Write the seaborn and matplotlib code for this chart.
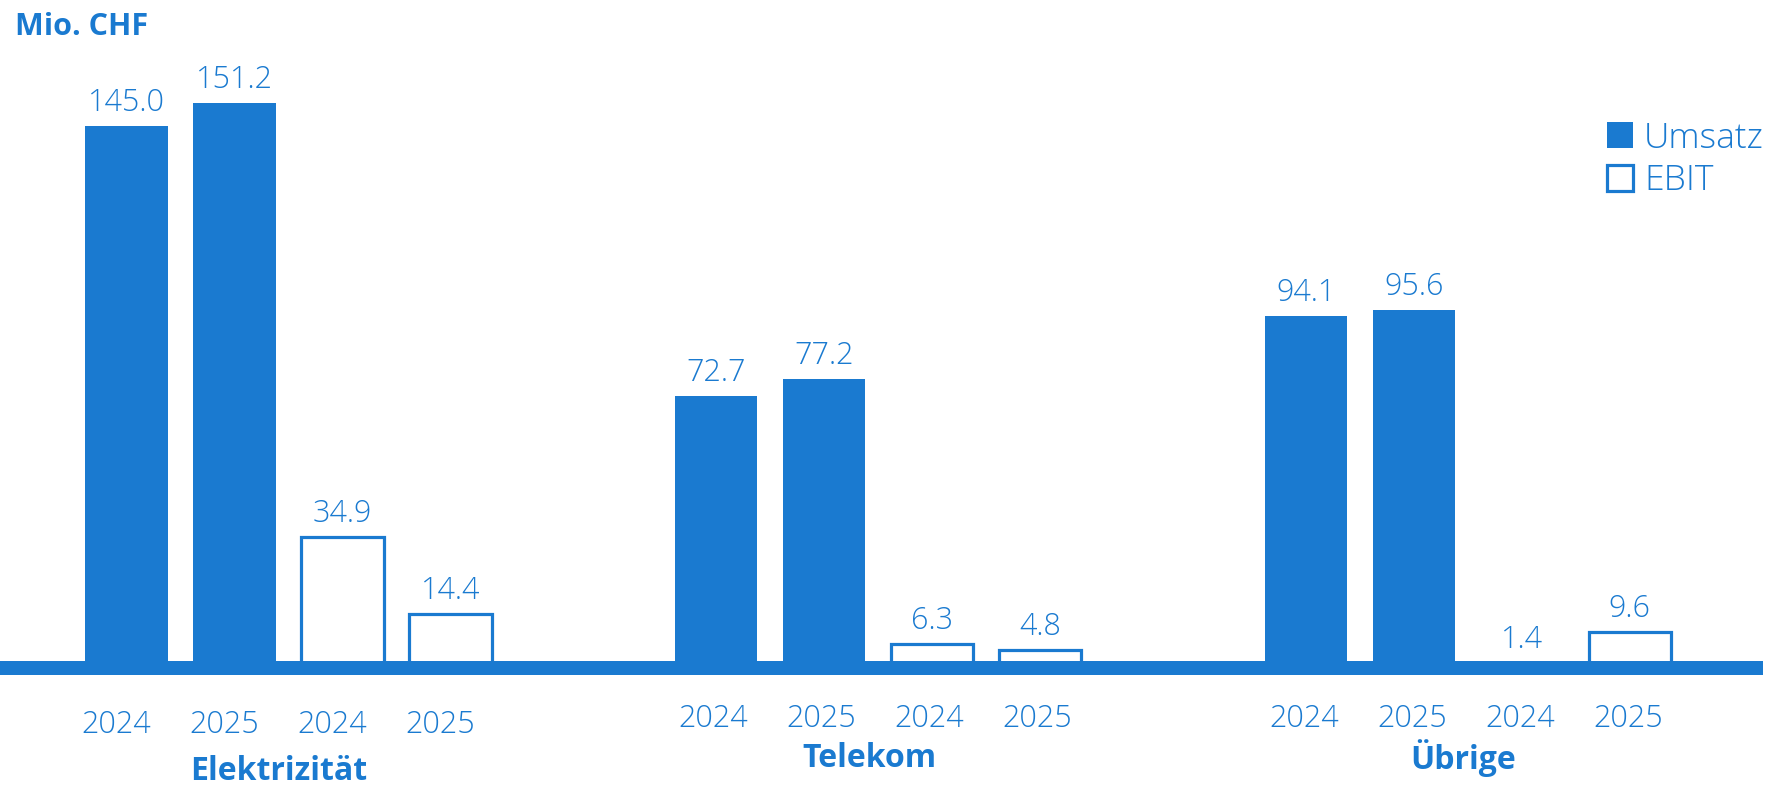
import matplotlib
matplotlib.use("Agg")
import matplotlib.pyplot as plt
import pandas as pd
import seaborn as sns
from matplotlib.patches import Patch

# Segment results in Mio. CHF
segments = ["Elektrizität", "Telekom", "Übrige"]
years = ["2024", "2025"]
umsatz_2024 = [145.0, 72.7, 94.1]
umsatz_2025 = [151.2, 77.2, 95.6]
ebit_2024 = [34.9, 6.3, 1.4]
ebit_2025 = [14.4, 4.8, 9.6]

BLUE = "#1a7ad0"
GROUP_STEP = 5.46   # distance between segment groups, in bar slots
BAR_WIDTH = 0.76
PT = 72 / 100       # points per pixel at 100 dpi

# per-group nudges (pixels) of the year and segment labels below the axis
year_dx = [-10, -3, -1.5]
year_dy = [6, 0, 0]
seg_dx = [-10, -9, -5]
seg_dy = [9, -4, -4]

rows = []
for g, seg in enumerate(segments):
    series = [
        ("Umsatz", years[0], umsatz_2024[g]),
        ("Umsatz", years[1], umsatz_2025[g]),
        ("EBIT", years[0], ebit_2024[g]),
        ("EBIT", years[1], ebit_2025[g]),
    ]
    for j, (measure, year, val) in enumerate(series):
        rows.append({"group": g, "segment": seg, "measure": measure,
                     "year": year, "value": val,
                     "pos": g * GROUP_STEP + j})
df = pd.DataFrame(rows)

sns.set_theme(style="white")
plt.rcParams["font.family"] = ["Open Sans", "DejaVu Sans"]

W, H = 1772, 787
fig = plt.figure(figsize=(W / 100, H / 100), dpi=100)
ax = fig.add_axes([0, 1 - 675 / H, 1763 / W, (675 - 20) / H])

px_per_unit = 3.74
zero_px = 668          # vertical pixel of the value 0
half_base = 7          # half thickness of the baseline, pixels
slot_px = 108.0
first_center_px = 126.5

sns.barplot(data=df[df.measure == "Umsatz"], x="pos", y="value",
            native_scale=True, color=BLUE, saturation=1, width=BAR_WIDTH,
            linewidth=0, errorbar=None, ax=ax)
sns.barplot(data=df[df.measure == "EBIT"], x="pos", y="value",
            native_scale=True, color=BLUE, saturation=1, width=BAR_WIDTH,
            fill=False, linewidth=2.3, errorbar=None, ax=ax)

ylo = -half_base / px_per_unit
yhi = (zero_px - 20) / px_per_unit
ax.set_ylim(ylo, yhi)
ax.set_xlim(-first_center_px / slot_px, (1763 - first_center_px) / slot_px)

# thick baseline centred on zero, drawn over the bar feet
ax.axhspan(-half_base / px_per_unit, half_base / px_per_unit,
           color=BLUE, lw=0, zorder=3)

for _, r in df.iterrows():
    ax.annotate(f"{r.value:.1f}", (r.pos, r.value), xytext=(0, 10.8),
                textcoords="offset points", ha="center", va="baseline",
                fontsize=22, fontweight="light", color=BLUE,
                annotation_clip=False)
    g = int(r.group)
    ax.annotate(r.year, (r.pos, 0),
                xytext=(year_dx[g] * PT, -37 - year_dy[g] * PT),
                textcoords="offset points", ha="center", va="center",
                fontsize=22, fontweight="light", color=BLUE,
                annotation_clip=False)

for g, seg in enumerate(segments):
    ax.annotate(seg, (g * GROUP_STEP + 1.5, 0),
                xytext=(seg_dx[g] * PT, -68 - seg_dy[g] * PT),
                textcoords="offset points", ha="center", va="center",
                fontsize=23, fontweight="bold", color=BLUE,
                annotation_clip=False)

ax.set_xlabel("")
ax.set_ylabel("")
ax.set_xticks([])
ax.set_yticks([])
for s in ax.spines.values():
    s.set_visible(False)

fig.text(15 / W, 1 - 35 / H, "Mio. CHF", fontsize=22, fontweight="bold",
         color=BLUE, ha="left", va="baseline")

handles = [Patch(facecolor=BLUE, edgecolor=BLUE, linewidth=0),
           Patch(facecolor="white", edgecolor=BLUE, linewidth=2.3)]
leg = ax.legend(handles, ["Umsatz", "EBIT"], loc="upper left",
                bbox_to_anchor=(1607 / W, 1 - 121 / H),
                bbox_transform=fig.transFigure, frameon=False,
                prop={"size": 25.5, "weight": "light"},
                handlelength=0.73, handleheight=0.73,
                handletextpad=0.32, labelspacing=0.24, borderpad=0,
                borderaxespad=0)
for t in leg.get_texts():
    t.set_color(BLUE)

fig.savefig("out.png", dpi=100, facecolor="white")
